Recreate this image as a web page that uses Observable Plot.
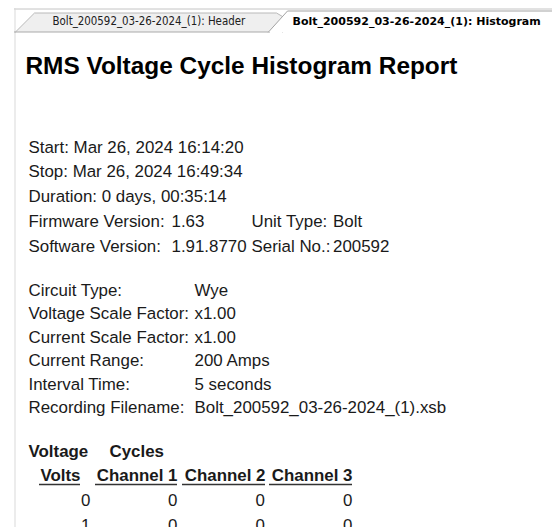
<!DOCTYPE html>
<html>
<head>
<meta charset="utf-8">
<script src="https://cdn.jsdelivr.net/npm/d3@7"></script>
<script src="https://cdn.jsdelivr.net/npm/@observablehq/plot@0.6"></script>
<style>
  html, body { margin: 0; padding: 0; background: #ffffff; }
  #chart { width: 552px; height: 527px; overflow: hidden; }
</style>
</head>
<body>
<div id="chart"></div>
<script>
// ---------- data ----------
const tabLabels = ["Bolt_200592_03-26-2024_(1): Header", "Bolt_200592_03-26-2024_(1): Histogram"];
const reportTitle = "RMS Voltage Cycle Histogram Report";
const recordingLines = ["Start: Mar 26, 2024 16:14:20", "Stop: Mar 26, 2024 16:49:34", "Duration: 0 days, 00:35:14"];
const versionLabels = ["Firmware Version:", "Software Version:"];
const versionValues = ["1.63", "1.91.8770"];
const unitLabels = ["Unit Type:", "Serial No.:"];
const unitValues = ["Bolt", "200592"];
const setupLabels = ["Circuit Type:", "Voltage Scale Factor:", "Current Scale Factor:", "Current Range:", "Interval Time:", "Recording Filename:"];
const setupValues = ["Wye", "x1.00", "x1.00", "200 Amps", "5 seconds", "Bolt_200592_03-26-2024_(1).xsb"];
const groupHeaders = ["Voltage", "Cycles"];
const columnHeaders = ["Volts", "Channel 1", "Channel 2", "Channel 3"];
const volts = [0, 1];
const channel1 = [0, 0];
const channel2 = [0, 0];
const channel3 = [0, 0];

// ---------- layout ----------
const W = 552, H = 527;
const bodyFont = "'Liberation Sans', Arial, sans-serif";
const tabFont = "'DejaVu Sans Condensed', 'DejaVu Sans', Tahoma, sans-serif";
const tabBoldFont = "'DejaVu Sans', Tahoma, sans-serif";
const ink = "#1a1a1a";
const bodySize = 16.9;
const labelX = 28;
const topBase = 152, topStep = 24.9;
const setupBase = 295, setupStep = 23.5;
const versionValueX = 171, unitLabelX = 251, unitValueX = 332.5;
const setupValueX = 194;
const groupX = [28, 109];
const groupBase = 456, headerBase = 480.7, rowBase = 505, rowStep = 25;
const colRight = [90, 177, 264.5, 352];
const headerSpan = [[39, 80], [95, 177], [182, 265], [269, 352]];
const underlineY = 484;

// derived tables
const topRows = [
  ...recordingLines.map((t, i) => ({text: t, x: labelX, y: topBase + i * topStep})),
  ...versionLabels.map((t, i) => ({text: t, x: labelX, y: topBase + (3 + i) * topStep})),
  ...versionValues.map((t, i) => ({text: t, x: versionValueX, y: topBase + (3 + i) * topStep})),
  ...unitLabels.map((t, i) => ({text: t, x: unitLabelX, y: topBase + (3 + i) * topStep})),
  ...unitValues.map((t, i) => ({text: t, x: unitValueX, y: topBase + (3 + i) * topStep}))
];
const setupRows = [
  ...setupLabels.map((t, i) => ({text: t, x: labelX, y: setupBase + i * setupStep})),
  ...setupValues.map((t, i) => ({text: t, x: setupValueX, y: setupBase + i * setupStep}))
];
const groupRows = groupHeaders.map((t, i) => ({text: t, x: groupX[i], y: groupBase}));
const headerRows = columnHeaders.map((t, i) => ({text: t, x: headerSpan[i][1], y: headerBase}));
const underlines = columnHeaders.map((t, i) => ({x1: headerSpan[i][0], x2: headerSpan[i][1], y: underlineY}));
const cells = [];
[volts, channel1, channel2, channel3].forEach((col, c) =>
  col.forEach((v, r) => cells.push({text: String(v), x: colRight[c], y: rowBase + r * rowStep})));

const inactiveTab = [[15, 31.5], [34, 12.5], [276, 12.5], [282, 16], [282, 31.5]].map(([x, y]) => ({x, y}));
const activeTab = [[268, 31.5], [287, 10.5], [560, 10.5], [560, 31.5]].map(([x, y]) => ({x, y}));
const activeEdge = [[268, 31.5], [287, 10.5], [560, 10.5]].map(([x, y]) => ({x, y}));

const chart = Plot.plot({
  width: W,
  height: H,
  margin: 0,
  x: {type: "identity", axis: null},
  y: {type: "identity", axis: null},
  style: {background: "#ffffff", overflow: "hidden"},
  marks: [
    // frame lines
    Plot.ruleY([8.5], {x1: 14, x2: W, stroke: "#c4c4c4", strokeWidth: 1}),
    Plot.ruleX([14.5], {y1: 8, y2: H, stroke: "#d9d9d9", strokeWidth: 1}),
    // inactive tab
    Plot.line(inactiveTab, {x: "x", y: "y", fill: "#efefef", stroke: "#b9b9b9", strokeWidth: 1, curve: "linear"}),
    Plot.ruleY([31.5], {x1: 14, x2: 270, stroke: "#a9a9a9", strokeWidth: 1}),
    // active tab
    Plot.line(activeTab, {x: "x", y: "y", fill: "#ffffff", stroke: "none"}),
    Plot.line(activeEdge, {x: "x", y: "y", stroke: "#a3a3a3", strokeWidth: 1}),
    Plot.text([tabLabels[0]], {x: () => 52, y: () => 24.5, text: d => d, textAnchor: "start", lineAnchor: "bottom",
      fontFamily: tabFont, fontSize: 11.4, fill: "#202020"}),
    Plot.text([tabLabels[1]], {x: () => 292, y: () => 24.5, text: d => d, textAnchor: "start", lineAnchor: "bottom",
      fontFamily: tabBoldFont, fontSize: 11, fontWeight: "bold", fill: "#000000"}),
    // title
    Plot.text([reportTitle], {x: () => 25, y: () => 73, text: d => d, textAnchor: "start", lineAnchor: "bottom",
      fontFamily: bodyFont, fontSize: 24.4, fontWeight: "bold", fill: "#000000"}),
    // header info
    Plot.text(topRows, {x: "x", y: "y", text: "text", textAnchor: "start", lineAnchor: "bottom",
      fontFamily: bodyFont, fontSize: bodySize, fill: ink}),
    Plot.text(setupRows, {x: "x", y: "y", text: "text", textAnchor: "start", lineAnchor: "bottom",
      fontFamily: bodyFont, fontSize: bodySize, fill: ink}),
    // table
    Plot.text(groupRows, {x: "x", y: "y", text: "text", textAnchor: "start", lineAnchor: "bottom",
      fontFamily: bodyFont, fontSize: bodySize, fontWeight: "bold", fill: ink}),
    Plot.text(headerRows, {x: "x", y: "y", text: "text", textAnchor: "end", lineAnchor: "bottom",
      fontFamily: bodyFont, fontSize: bodySize, fontWeight: "bold", fill: ink}),
    Plot.ruleY(underlines, {x1: "x1", x2: "x2", y: "y", stroke: "#333333", strokeWidth: 1.6}),
    Plot.text(cells, {x: "x", y: "y", text: "text", textAnchor: "end", lineAnchor: "bottom",
      fontFamily: bodyFont, fontSize: bodySize, fill: ink})
  ]
});
document.getElementById("chart").appendChild(chart);
</script>
</body>
</html>
